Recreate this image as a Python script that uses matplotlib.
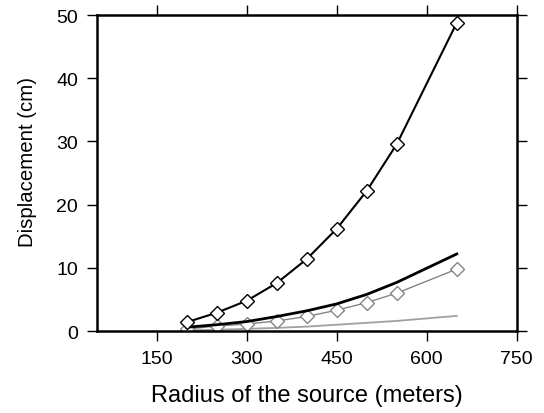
import numpy as np
import matplotlib.pyplot as plt

plt.rcParams['font.family'] = ['Liberation Sans', 'DejaVu Sans']

# radius of the source (m)
radius = [200, 250, 300, 350, 400, 450, 500, 550, 650]

# displacement curves (cm)
disp_black_markers = [1.4, 2.9, 4.8, 7.6, 11.4, 16.2, 22.2, 29.6, 48.8]
disp_black_line = [0.6, 1.0, 1.5, 2.3, 3.2, 4.3, 5.8, 7.7, 12.2]
disp_grey_markers = [0.3, 0.8, 1.1, 1.6, 2.3, 3.3, 4.5, 6.0, 9.8]
disp_grey_line = [0.1, 0.2, 0.35, 0.5, 0.7, 1.0, 1.3, 1.6, 2.4]

xticks = [150, 300, 450, 600, 750]
yticks = [0, 10, 20, 30, 40, 50]

fig = plt.figure(figsize=(5.44, 4.14), dpi=100)
ax = fig.add_axes([0.178, 0.198, 0.772, 0.763])

ax.plot(radius, disp_grey_line, color='#a0a0a0', lw=1.3)
ax.plot(radius, disp_grey_markers, color='#858585', lw=1.0, marker='D',
        ms=7.5, mfc='white', mec='#858585', mew=1.0)
ax.plot(radius, disp_black_line, color='black', lw=2.0)
ax.plot(radius, disp_black_markers, color='black', lw=1.5, marker='D',
        ms=7.5, mfc='white', mec='black', mew=1.0)

ax.set_xlim(50, 750)
ax.set_ylim(0, 50)
ax.set_xticks(xticks)
ax.set_yticks(yticks)
ax.tick_params(direction='out', length=7, width=1, labelsize=14,
               top=True, right=True, pad=6.5)
for s in ax.spines.values():
    s.set_linewidth(1.8)

ax.set_xlabel('Radius of the source (meters)', fontsize=17)
ax.set_ylabel('Displacement (cm)', fontsize=14.7)
ax.xaxis.set_label_coords(0.5, -0.169)
ax.yaxis.set_label_coords(-0.143, 0.538)

fig.savefig('out.png', dpi=100)
